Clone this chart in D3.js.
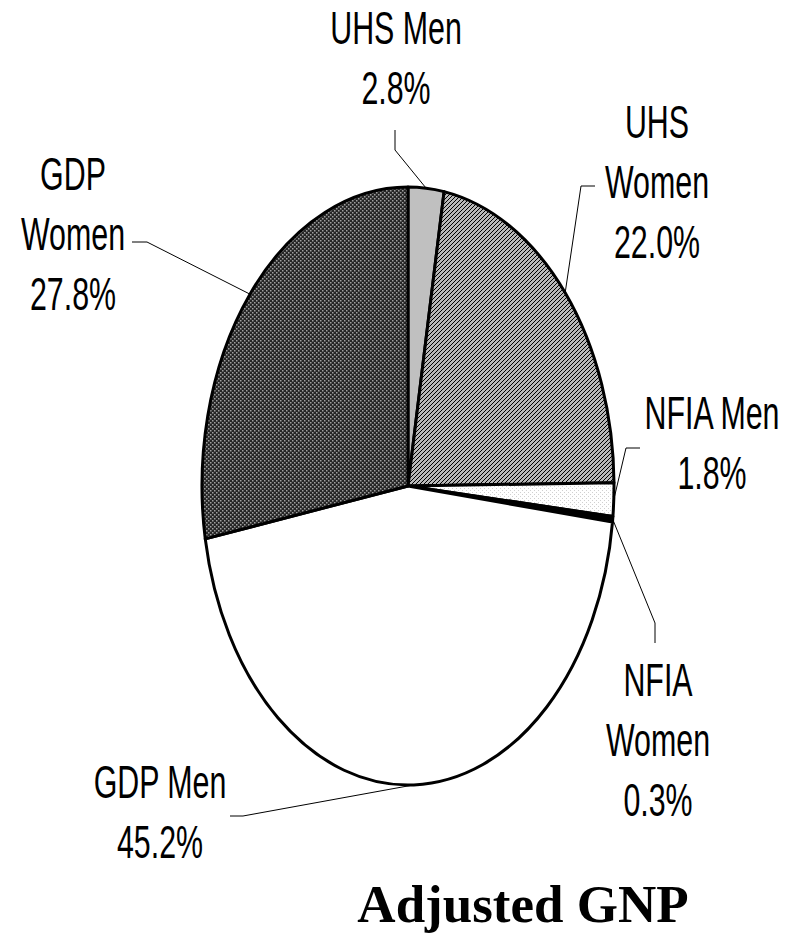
<!DOCTYPE html>
<html>
<head>
<meta charset="utf-8">
<script src="https://cdn.jsdelivr.net/npm/d3@7"></script>
<style>
  body { margin: 0; background: #fff; }
  text { font-family: "Liberation Sans", Arial, sans-serif; fill: #000; }
</style>
</head>
<body>
<svg id="chart"></svg>
<script>
// data, clockwise from 12 o'clock
const categories = ["UHS Men", "UHS Women", "NFIA Men", "NFIA Women", "GDP Men", "GDP Women"]
const shares = [2.8, 22.0, 1.8, 0.3, 45.2, 27.8]
const percentLabels = ["2.8%", "22.0%", "1.8%", "0.3%", "45.2%", "27.8%"]
const titleText = "Adjusted GNP"

const width = 789
const height = 939
const cx = 408, cy = 486, rx = 206, ry = 299

const svg = d3.select('#chart')
    .attr("width", width)
    .attr("height", height)

// fill patterns
const defs = svg.append("defs")

const hatch = defs.append("pattern").attr("id", "hatch")
    .attr("patternUnits", "userSpaceOnUse").attr("width", 4).attr("height", 4)
hatch.append("rect").attr("width", 4).attr("height", 4).attr("fill", "#b8b8b8")
hatch.append("path").attr("d", "M-1,1 l2,-2 M0,4 l4,-4 M3,5 l2,-2")
    .attr("stroke", "#000").attr("stroke-width", 1)

const darkDots = defs.append("pattern").attr("id", "darkdots")
    .attr("patternUnits", "userSpaceOnUse").attr("width", 4).attr("height", 4)
darkDots.append("rect").attr("width", 4).attr("height", 4).attr("fill", "#262626")
darkDots.append("rect").attr("x", 0).attr("y", 0).attr("width", 1.5).attr("height", 1.5).attr("fill", "#a0a0a0")
darkDots.append("rect").attr("x", 2).attr("y", 2).attr("width", 1.5).attr("height", 1.5).attr("fill", "#a0a0a0")

const lightDots = defs.append("pattern").attr("id", "lightdots")
    .attr("patternUnits", "userSpaceOnUse").attr("width", 4).attr("height", 4)
lightDots.append("rect").attr("width", 4).attr("height", 4).attr("fill", "#fff")
lightDots.append("rect").attr("x", 0).attr("y", 0).attr("width", 1).attr("height", 1).attr("fill", "#d0d0d0")
lightDots.append("rect").attr("x", 2).attr("y", 2).attr("width", 1).attr("height", 1).attr("fill", "#d0d0d0")

const fills = d3.scaleOrdinal()
    .domain(categories)
    .range(["#c0c0c0", "url(#hatch)", "url(#lightdots)", "#000", "#fff", "url(#darkdots)"])

const pie = d3.pie().sort(null).value(d => d.share)
const slices = pie(categories.map((c, i) => ({ name: c, share: shares[i], pct: percentLabels[i] })))

function ellipsePoint(a) {
    return [cx + rx * Math.sin(a), cy - ry * Math.cos(a)]
}

function slicePath(d) {
    const p0 = ellipsePoint(d.startAngle)
    const p1 = ellipsePoint(d.endAngle)
    const large = d.endAngle - d.startAngle > Math.PI ? 1 : 0
    return `M${cx},${cy}L${p0[0]},${p0[1]}A${rx},${ry} 0 ${large} 1 ${p1[0]},${p1[1]}Z`
}

svg.append("g").selectAll("path")
    .data(slices)
    .enter()
    .append("path")
    .attr("d", slicePath)
    .attr("fill", d => fills(d.data.name))
    .attr("stroke", "#000")
    .attr("stroke-width", 3)
    .attr("stroke-linejoin", "round")

// label layout: centre x, first baseline, leader start + elbow
const layout = {
    "UHS Men":    { x: 396, y: 44,  lines: ["UHS Men"],        leader: [[395, 130], [395, 150]] },
    "UHS Women":  { x: 657, y: 138, lines: ["UHS", "Women"],   leader: [[595, 186], [581, 186]] },
    "NFIA Men":   { x: 712, y: 429, lines: ["NFIA Men"],       leader: [[640, 448], [626, 448]] },
    "NFIA Women": { x: 658, y: 696, lines: ["NFIA", "Women"],  leader: [[655, 643], [655, 623]] },
    "GDP Men":    { x: 160, y: 798, lines: ["GDP Men"],        leader: [[230, 816], [243, 816]] },
    "GDP Women":  { x: 73,  y: 190, lines: ["GDP", "Women"],   leader: [[132, 242], [147, 242]] }
}
const lineStep = 60

const line = d3.line()

svg.append("g").selectAll("path")
    .data(slices)
    .enter()
    .append("path")
    .attr("d", d => {
        const mid = (d.startAngle + d.endAngle) / 2
        return line(layout[d.data.name].leader.concat([ellipsePoint(mid)]))
    })
    .attr("fill", "none")
    .attr("stroke", "#000")
    .attr("stroke-width", 1)

const labels = svg.append("g").selectAll("g")
    .data(slices)
    .enter()
    .append("g")

labels.each(function (d) {
    const l = layout[d.data.name]
    const rows = l.lines.concat([d.data.pct])
    d3.select(this).selectAll("text")
        .data(rows)
        .enter()
        .append("text")
        .attr("text-anchor", "middle")
        .attr("font-size", 46)
        .attr("transform", (t, i) => `translate(${l.x},${l.y + i * lineStep}) scale(0.66,1)`)
        .text(t => t)
})

svg.append("text")
    .attr("x", 523)
    .attr("y", 922)
    .attr("text-anchor", "middle")
    .style("font-family", "'Liberation Serif', 'Times New Roman', serif")
    .attr("font-weight", "bold")
    .attr("font-size", 53)
    .text(titleText)
</script>
</body>
</html>
